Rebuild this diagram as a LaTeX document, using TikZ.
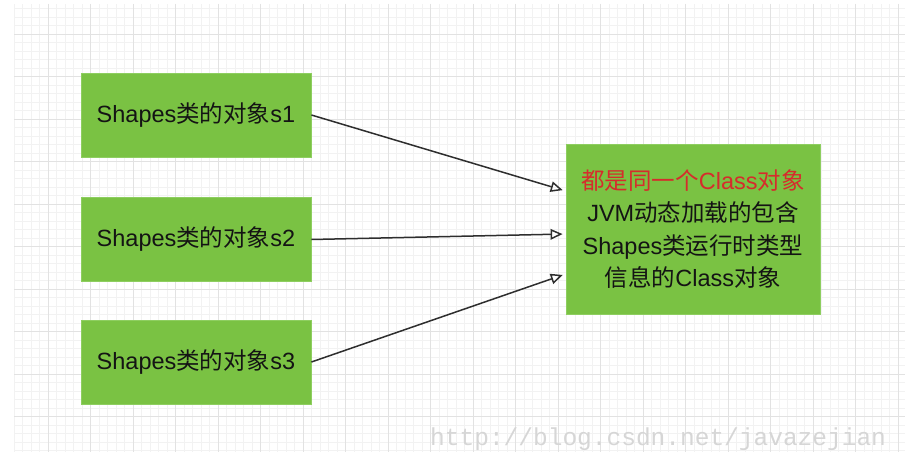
\documentclass[tikz,border=0pt]{standalone}
\usepackage{fontspec}
\setmainfont{Liberation Sans}
\newfontfamily\zhfont{Noto Sans CJK SC}
\newfontfamily\wmfont{Liberation Mono}
\usetikzlibrary{arrows.meta}

\definecolor{boxgreen}{RGB}{122,194,67}
\definecolor{boxedge}{RGB}{142,206,96}
\definecolor{clsred}{RGB}{214,44,44}
\definecolor{gridminor}{RGB}{242,242,242}
\definecolor{gridmajor}{RGB}{226,226,226}
\newcommand{\zh}[1]{{\zhfont #1}}

\begin{document}
\begin{tikzpicture}[x=1pt, y=-1pt,
    obj/.style={fill=boxgreen, draw=boxedge, line width=0.8pt, minimum width=230pt, minimum height=84pt,
                font=\fontsize{23.5}{32.5}\selectfont, text=black!92},
    clsbox/.style={obj, minimum width=254pt, minimum height=170pt, align=center},
    link/.style={-{Triangle[open,length=12pt,width=10.5pt]}, line width=1.5pt, draw=black!82, shorten >=3pt},
    wm/.style={font=\wmfont\fontsize{24.5}{25}\selectfont, text=black!16, inner sep=0pt}]

    \useasboundingbox (0,0) rectangle (905,452);
    % grid paper
    \foreach \gx in {14,22.5,...,905} \draw[gridminor, line width=0.5pt] (\gx,4) -- (\gx,452);
    \foreach \gy in {8.5,17,...,452} \draw[gridminor, line width=0.5pt] (14,\gy) -- (905,\gy);
    \foreach \gx in {48,90.5,...,905} \draw[gridmajor, line width=0.8pt] (\gx,4) -- (\gx,452);
    \foreach \gy in {34,76.5,...,452} \draw[gridmajor, line width=0.8pt] (14,\gy) -- (905,\gy);

    \node [obj] (s1) at (196 , 115) {Shapes\zh{类的对象}s1};
    \node [obj] (s2) at (196 , 239.5) {Shapes\zh{类的对象}s2};
    \node [obj] (s3) at (196 , 362) {Shapes\zh{类的对象}s3};
    \node [clsbox] (cls) at (693 , 229) {{\color{clsred}\zh{都是同一个}Class\zh{对象}}\\
        JVM\zh{动态加载的包含}\\
        Shapes\zh{类运行时类型}\\
        \zh{信息的}Class\zh{对象}};

    \node [wm, anchor=base west] (mark) at (430 , 445) {http://blog.csdn.net/javazejian};

 \path
      (s1.east) edge[link] ([yshift=38pt]cls.west)
      (s2.east) edge[link] ([yshift=-5pt]cls.west)
      (s3.east) edge[link] ([yshift=-45pt]cls.west);
\end{tikzpicture}
\end{document}
